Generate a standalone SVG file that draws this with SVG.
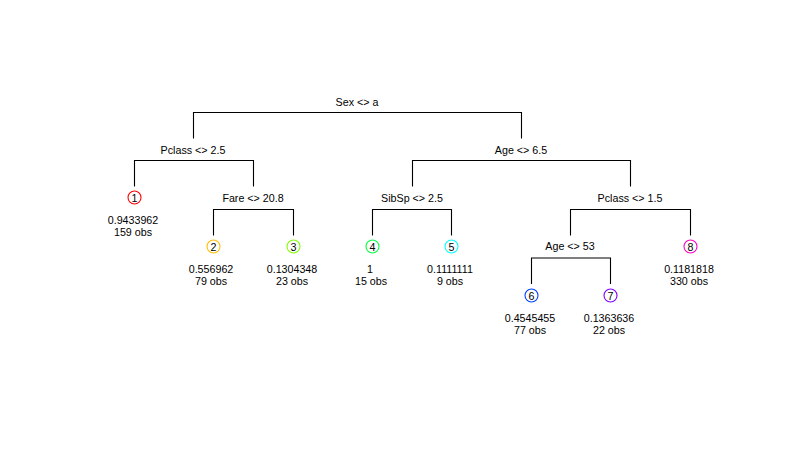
<svg xmlns="http://www.w3.org/2000/svg" width="786" height="449" viewBox="0 0 786 449">
<style>
text{font-family:"Liberation Sans",Arial,sans-serif;font-size:10.7px;fill:#000;text-anchor:middle}
.e{fill:none;stroke:#000;stroke-width:1.1}
.c{fill:#fff;stroke-width:1.1}
</style>
<rect width="786" height="449" fill="#fff"/>
<g id="connectors">
<path class="e" d="M193.5,138.5V112.5H521.5V138.5"/>
<path class="e" d="M134.5,186.5V160.5H253.5V186.5"/>
<path class="e" d="M412.5,186.5V160.5H630.5V186.5"/>
<path class="e" d="M213.5,235.5V209.5H293.5V235.5"/>
<path class="e" d="M372.5,235.5V209.5H451.5V235.5"/>
<path class="e" d="M570.5,235.5V209.5H690.5V235.5"/>
<path class="e" d="M531.5,284V258H610.5V284"/>
</g>
<g id="split-sex"><text x="357" y="106">Sex &lt;&gt; a</text></g>
<g id="split-pclass25"><text x="193" y="154">Pclass &lt;&gt; 2.5</text></g>
<g id="split-age65"><text x="521" y="154">Age &lt;&gt; 6.5</text></g>
<g id="split-fare"><text x="253" y="202">Fare &lt;&gt; 20.8</text></g>
<g id="split-sibsp"><text x="412" y="202">SibSp &lt;&gt; 2.5</text></g>
<g id="split-pclass15"><text x="630" y="202">Pclass &lt;&gt; 1.5</text></g>
<g id="split-age53"><text x="570" y="250">Age &lt;&gt; 53</text></g>
<g id="leaf1"><circle class="c" cx="134.5" cy="197.5" r="6.5" stroke="#FF0000"/><text x="134.5" y="201.5">1</text><text x="133" y="224">0.9433962</text><text x="133" y="235.5">159 obs</text></g>
<g id="leaf2"><circle class="c" cx="213.5" cy="246.5" r="6.5" stroke="#FFBF00"/><text x="213.5" y="250.5">2</text><text x="211" y="273">0.556962</text><text x="211" y="284.5">79 obs</text></g>
<g id="leaf3"><circle class="c" cx="293.5" cy="246.5" r="6.5" stroke="#80FF00"/><text x="293.5" y="250.5">3</text><text x="292" y="273">0.1304348</text><text x="292" y="284.5">23 obs</text></g>
<g id="leaf4"><circle class="c" cx="372.5" cy="246.5" r="6.5" stroke="#00FF40"/><text x="372.5" y="250.5">4</text><text x="370" y="273">1</text><text x="371" y="284.5">15 obs</text></g>
<g id="leaf5"><circle class="c" cx="451.5" cy="246.5" r="6.5" stroke="#00FFFF"/><text x="451.5" y="250.5">5</text><text x="450" y="273">0.1111111</text><text x="450" y="284.5">9 obs</text></g>
<g id="leaf6"><circle class="c" cx="531.5" cy="295.5" r="6.5" stroke="#0040FF"/><text x="531.5" y="299.5">6</text><text x="530" y="322">0.4545455</text><text x="530" y="333.5">77 obs</text></g>
<g id="leaf7"><circle class="c" cx="610.5" cy="295.5" r="6.5" stroke="#8000FF"/><text x="610.5" y="299.5">7</text><text x="609" y="322">0.1363636</text><text x="609" y="333.5">22 obs</text></g>
<g id="leaf8"><circle class="c" cx="690.5" cy="246.5" r="6.5" stroke="#FF00BF"/><text x="690.5" y="250.5">8</text><text x="689" y="273">0.1181818</text><text x="689" y="284.5">330 obs</text></g>
</svg>
